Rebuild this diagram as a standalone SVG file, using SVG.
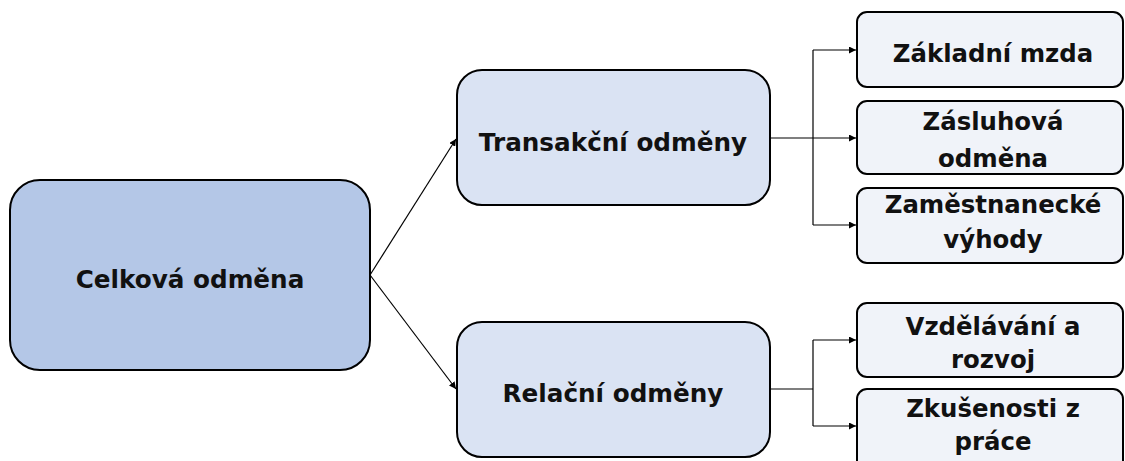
<svg xmlns="http://www.w3.org/2000/svg" width="1125" height="461" viewBox="0 0 1125 461">
<style>
.box{stroke:#000;stroke-width:2}
.l0{fill:#b4c7e7}
.l1{fill:#dae3f3}
.l2{fill:#f0f3f9}
text{font-family:"DejaVu Sans",Verdana,sans-serif;font-weight:bold;fill:#111;text-anchor:middle}
.t{font-size:24.7px}
.s{font-size:24.4px}
.c{fill:none;stroke:#000;stroke-width:1.2}
</style>
<defs>
<marker id="ah" viewBox="0 0 10 10" refX="10" refY="5" markerWidth="7" markerHeight="7" markerUnits="userSpaceOnUse" orient="auto">
<path d="M0,0 L10,5 L0,10 z" fill="#000"/>
</marker>
</defs>
<g id="connectors">
<path class="c" d="M370,275 L456,139" marker-end="url(#ah)"/>
<path class="c" d="M370,275 L456,389" marker-end="url(#ah)"/>
<path class="c" d="M770,138 L813,138"/>
<path class="c" d="M813,50 L813,225"/>
<path class="c" d="M813,50 L856,50" marker-end="url(#ah)"/>
<path class="c" d="M813,138 L856,138" marker-end="url(#ah)"/>
<path class="c" d="M813,225 L856,225" marker-end="url(#ah)"/>
<path class="c" d="M770,389 L813,389"/>
<path class="c" d="M813,340 L813,426"/>
<path class="c" d="M813,340 L856,340" marker-end="url(#ah)"/>
<path class="c" d="M813,426 L856,426" marker-end="url(#ah)"/>
</g>
<g id="root">
<rect class="box l0" x="10" y="180" width="360" height="190" rx="30"/>
<text class="t" x="190" y="288">Celková odměna</text>
</g>
<g id="transakcni">
<rect class="box l1" x="457" y="70" width="313" height="135" rx="25"/>
<text class="t" x="613" y="151">Transakční odměny</text>
</g>
<g id="relacni">
<rect class="box l1" x="457" y="322" width="313" height="135" rx="25"/>
<text class="t" x="613" y="402">Relační odměny</text>
</g>
<g id="zakladni">
<rect class="box l2" x="857" y="12" width="266" height="75" rx="10"/>
<text class="s" x="993" y="62">Základní mzda</text>
</g>
<g id="zasluhova">
<rect class="box l2" x="857" y="101" width="266" height="73" rx="10"/>
<text class="s" x="993" y="130">Zásluhová</text>
<text class="s" x="993" y="167">odměna</text>
</g>
<g id="zamestnanecke">
<rect class="box l2" x="857" y="188" width="266" height="75" rx="10"/>
<text class="s" x="993" y="213">Zaměstnanecké</text>
<text class="s" x="993" y="248">výhody</text>
</g>
<g id="vzdelavani">
<rect class="box l2" x="857" y="303" width="266" height="74" rx="10"/>
<text class="s" x="993" y="335">Vzdělávání a</text>
<text class="s" x="993" y="368">rozvoj</text>
</g>
<g id="zkusenosti">
<rect class="box l2" x="857" y="389" width="266" height="90" rx="10"/>
<text class="s" x="993" y="417">Zkušenosti z</text>
<text class="s" x="993" y="450">práce</text>
</g>
</svg>
